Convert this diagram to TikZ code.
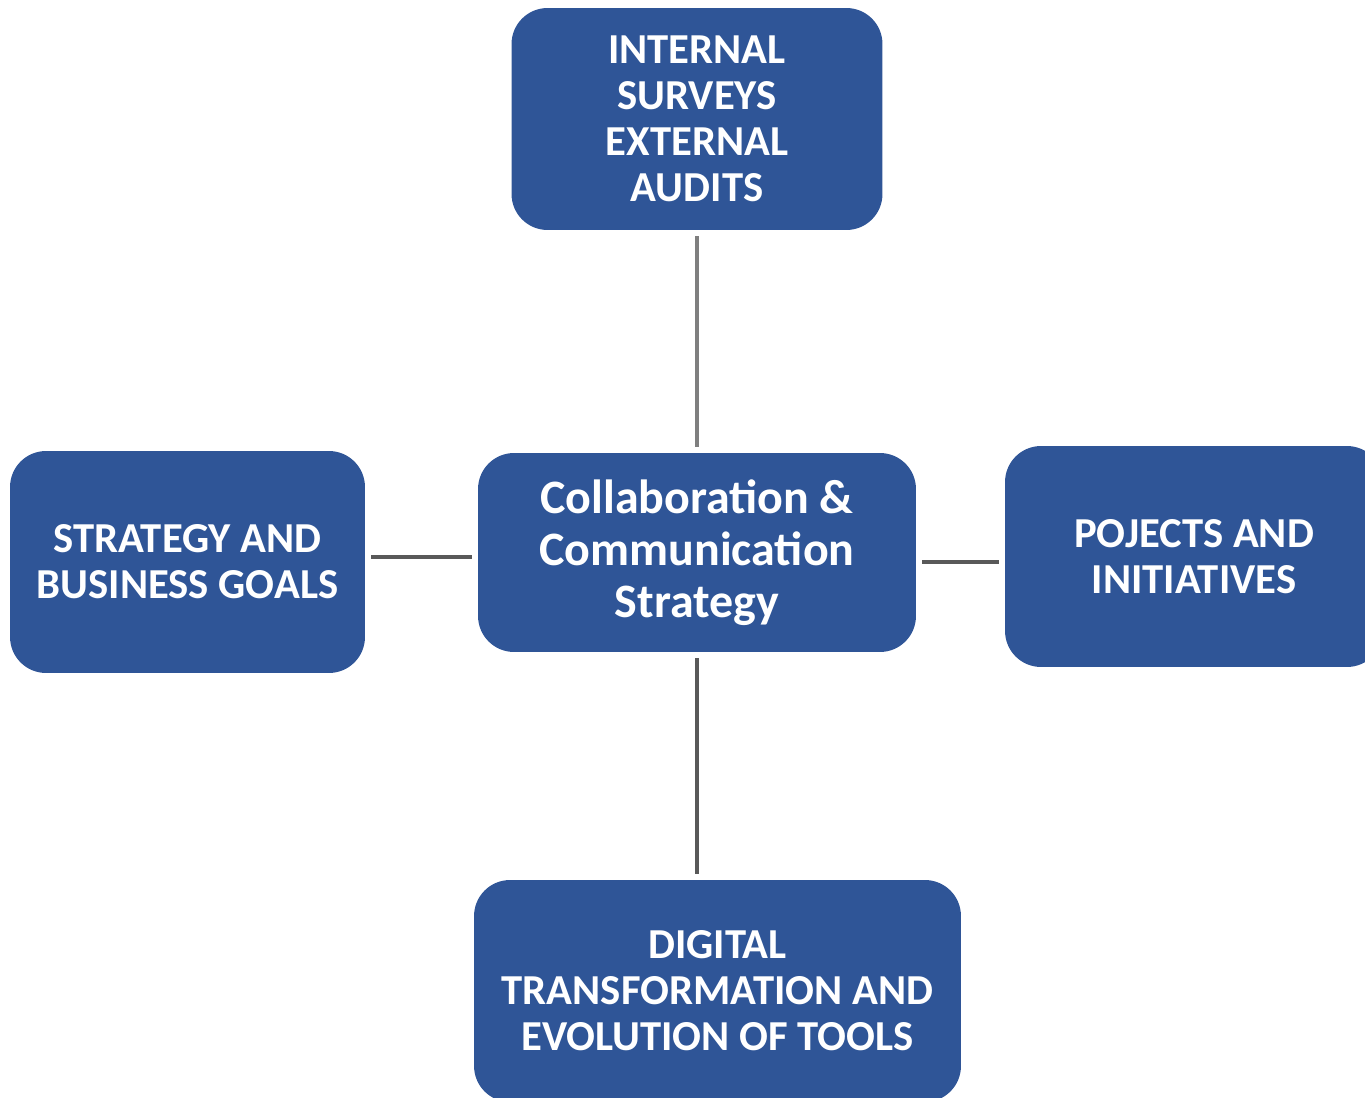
\documentclass[tikz,border=0pt]{standalone}
\usepackage{fontspec}
\setmainfont{Carlito}
\definecolor{boxblue}{HTML}{2F5597}
\definecolor{linkdark}{HTML}{595959}
\definecolor{linklight}{HTML}{7F7F7F}

\begin{document}
\begin{tikzpicture}[
    x=0.02cm, y=-0.02cm,
    every node/.style={align=center, text=white},
    topic/.style={rectangle, rounded corners=0.72cm, fill=boxblue,
                  font=\fontsize{24.3}{26.2}\selectfont\bfseries,
                  minimum height=4.44cm, inner sep=0pt},
    hub/.style={topic, font=\fontsize{27.3}{29.6}\selectfont\bfseries,
                minimum width=8.76cm, minimum height=3.98cm},
    link/.style={line width=2.8pt, draw=linkdark,
                 shorten >=0.12cm, shorten <=0.12cm},
]
\useasboundingbox (0,0) rectangle (1365,1098);

% ---------- Central strategy ----------
\node[hub] (hub) at (697, 552.5)
    {Collaboration \&\\Communication\\Strategy};

% ---------- Surrounding topics ----------
\node[topic, minimum width=7.42cm] (surveys) at (697, 119)
    {INTERNAL\\SURVEYS\\EXTERNAL\\AUDITS};

\node[topic, minimum width=7.1cm] (goals) at (187.5, 562)
    {STRATEGY AND\\BUSINESS GOALS};

\node[topic, minimum width=7.56cm, minimum height=4.42cm] (projects) at (1194, 556.5)
    {POJECTS AND\\INITIATIVES};

\node[topic, minimum width=9.74cm] (tools) at (717.5, 991)
    {DIGITAL\\TRANSFORMATION AND\\EVOLUTION OF TOOLS};

% ---------- Links ----------
\draw[link, draw=linklight] (surveys) -- (hub);
\draw[link] ([yshift=0.1cm]goals.east) -- ([yshift=0.1cm]goals.east -| hub.west);
\draw[link] ([yshift=-0.11cm]projects.west -| hub.east) -- ([yshift=-0.11cm]projects.west);
\draw[link] (hub.south) -- (hub.south |- tools.north);

\end{tikzpicture}
\end{document}
